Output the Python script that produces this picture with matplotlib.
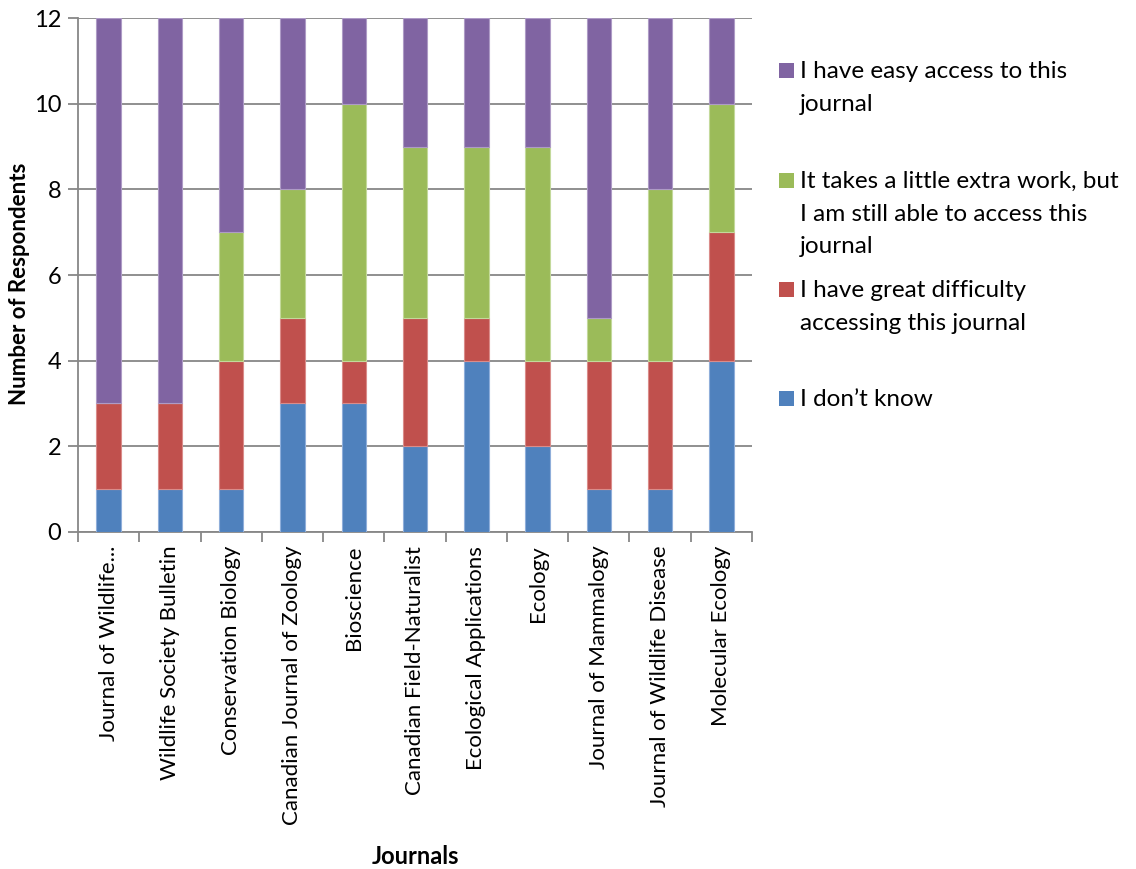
import numpy as np
import matplotlib.pyplot as plt
from matplotlib.patches import Rectangle

plt.rcParams['font.family'] = ['Lato', 'DejaVu Sans']

journals = ['Journal of Wildlife...', 'Wildlife Society Bulletin', 'Conservation Biology',
            'Canadian Journal of Zoology', 'Bioscience', 'Canadian Field-Naturalist',
            'Ecological Applications', 'Ecology', 'Journal of Mammalogy',
            'Journal of Wildlife Disease', 'Molecular Ecology']

dont_know = [1, 1, 1, 3, 3, 2, 4, 2, 1, 1, 4]
great_difficulty = [2, 2, 3, 2, 1, 3, 1, 2, 3, 3, 3]
little_extra = [0, 0, 3, 3, 6, 4, 4, 5, 1, 4, 3]
easy_access = [9, 9, 5, 4, 2, 3, 3, 3, 7, 4, 2]

series_labels = ['I don\u2019t know',
                 'I have great difficulty\naccessing this journal',
                 'It takes a little extra work, but\nI am still able to access this\njournal',
                 'I have easy access to this\njournal']
colors = ['#4F81BD', '#C0504D', '#9BBB59', '#8064A2']
edges = ['#8FAEDA', '#DA8C8A', '#C3D99B', '#AE9BC6']

fig = plt.figure(figsize=(11.36, 8.69), dpi=100)
ax = fig.add_axes([0.0687, 0.388, 0.5933, 0.591])

x = np.arange(len(journals))
bottom = np.zeros(len(journals))
for vals, c, e in zip([dont_know, great_difficulty, little_extra, easy_access], colors, edges):
    ax.bar(x, vals, width=0.4, bottom=bottom, color=c, edgecolor=e, linewidth=0.8, zorder=3)
    bottom += np.array(vals)

ax.set_xlim(-0.5, len(journals) - 0.5)
ax.set_ylim(0, 12)
ax.set_yticks(range(0, 13, 2))
ax.yaxis.grid(True, color='#878787', linewidth=1.3, zorder=0)

ax.set_xticks(x)
ax.set_xticklabels(journals, rotation=90, fontsize=16)
ax.set_xticks(np.arange(-0.5, len(journals)), minor=True)
ax.tick_params(axis='x', which='major', length=0, pad=10)
ax.tick_params(axis='x', which='minor', length=7, width=1.3, color='#878787')
ax.tick_params(axis='y', length=7, width=1.3, color='#878787', labelsize=17, pad=5)

for s in ['top', 'right']:
    ax.spines[s].set_visible(False)
for s in ['left', 'bottom']:
    ax.spines[s].set_color('#878787')
    ax.spines[s].set_linewidth(1.3)

fig.text(20 / 1136, 1 - 284 / 869, 'Number of Respondents', fontsize=16, fontweight='bold',
         rotation=90, ha='center', va='center')
fig.text(0.366, 1 - 857 / 869, 'Journals', fontsize=17, fontweight='bold', ha='center', va='center')

# legend drawn by hand, first lines evenly spaced like the original
ys = [70, 180, 289, 398]
for i, y in enumerate(ys):
    k = 3 - i
    fig.patches.append(Rectangle((779 / 1136, 1 - (y + 8) / 869), 15 / 1136, 15 / 869,
                                 transform=fig.transFigure, facecolor=colors[k],
                                 edgecolor='none', figure=fig))
    fig.text(800 / 1136, 1 - (y - 9) / 869, series_labels[k], fontsize=17.5,
             ha='left', va='top', linespacing=1.69)

fig.savefig('out.png', dpi=100)
